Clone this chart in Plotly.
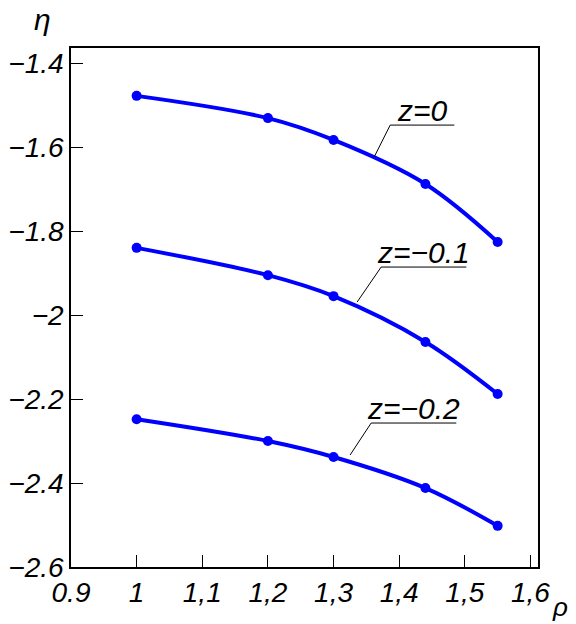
import plotly.graph_objects as go

rho = [1.0, 1.2, 1.3, 1.44, 1.55]
eta_z0 = [-1.478, -1.531, -1.583, -1.688, -1.826]
eta_z01 = [-1.840, -1.905, -1.955, -2.064, -2.188]
eta_z02 = [-2.248, -2.300, -2.338, -2.412, -2.502]

series_names = ["z=0", "z=−0.1", "z=−0.2"]
series_vals = [eta_z0, eta_z01, eta_z02]

x_tickvals = [0.9, 1.0, 1.1, 1.2, 1.3, 1.4, 1.5, 1.6]
x_ticktext = ["0.9", "1", "1,1", "1,2", "1,3", "1,4", "1,5", "1,6"]
y_tickvals = [-1.4, -1.6, -1.8, -2.0, -2.2, -2.4, -2.6]
y_ticktext = ["−1.4", "−1.6", "−1.8", "−2", "−2.2", "−2.4", "−2.6"]

FONT = "Liberation Sans, Arial, sans-serif"
BLUE = "#0000ff"

fig = go.Figure()
for name, vals in zip(series_names, series_vals):
    fig.add_trace(go.Scatter(
        x=rho, y=vals, mode="lines+markers", name=name,
        line=dict(color=BLUE, width=4, shape="spline", smoothing=1.0),
        marker=dict(color=BLUE, size=10),
        showlegend=False,
    ))

# label leaders: (text, leader start on curve, underline left x, underline right x, underline y)
labels = [
    ("z=0", (1.3618, -1.6238), 1.3863, 1.4840, -1.5476),
    ("z=−0.1", (1.3359, -1.969), 1.3725, 1.5023, -1.8857),
    ("z=−0.2", (1.3252, -2.3333), 1.3573, 1.4870, -2.2571),
]
for txt, (x0, y0), xl, xr, yu in labels:
    fig.add_shape(type="line", x0=x0, y0=y0, x1=xl, y1=yu,
                  line=dict(color="black", width=1))
    fig.add_shape(type="line", x0=xl, y0=yu, x1=xr, y1=yu,
                  line=dict(color="black", width=1))
    fig.add_annotation(x=(xl + xr) / 2, y=yu, xanchor="center", yanchor="bottom",
                       text=txt, showarrow=False, yshift=-4,
                       font=dict(family=FONT, size=30, color="black", style="italic"))

fig.add_annotation(xref="paper", yref="paper", x=-0.06, y=1.054,
                   xanchor="center", yanchor="middle", text="η", showarrow=False,
                   font=dict(family=FONT, size=30, color="black", style="italic"))
fig.add_annotation(xref="paper", yref="paper", x=1.068, y=-0.045,
                   xanchor="right", yanchor="top", text="ρ", showarrow=False,
                   font=dict(family=FONT, size=26, color="black", style="italic"))

fig.update_layout(
    width=576, height=624,
    margin=dict(l=71, r=38, t=48, b=57, autoexpand=False),
    paper_bgcolor="white", plot_bgcolor="white",
    xaxis=dict(range=[0.9, 1.6115], tickvals=x_tickvals, ticktext=x_ticktext,
               ticks="inside", ticklen=12, tickcolor="black", tickwidth=1,
               showline=True, linecolor="black", linewidth=1.5, mirror=True,
               showgrid=False, zeroline=False, automargin=False,
               tickfont=dict(family=FONT, size=28, color="black", style="italic")),
    yaxis=dict(range=[-2.6, -1.364], tickvals=y_tickvals, ticktext=y_ticktext,
               ticks="inside", ticklen=12, tickcolor="black", tickwidth=1,
               showline=True, linecolor="black", linewidth=1.5, mirror=True,
               showgrid=False, zeroline=False, automargin=False,
               tickfont=dict(family=FONT, size=28, color="black", style="italic")),
)

fig.write_html(
    "out.html",
    config={"displayModeBar": False},
    post_script="document.body.style.margin='0';document.body.style.overflow='hidden';",
)
